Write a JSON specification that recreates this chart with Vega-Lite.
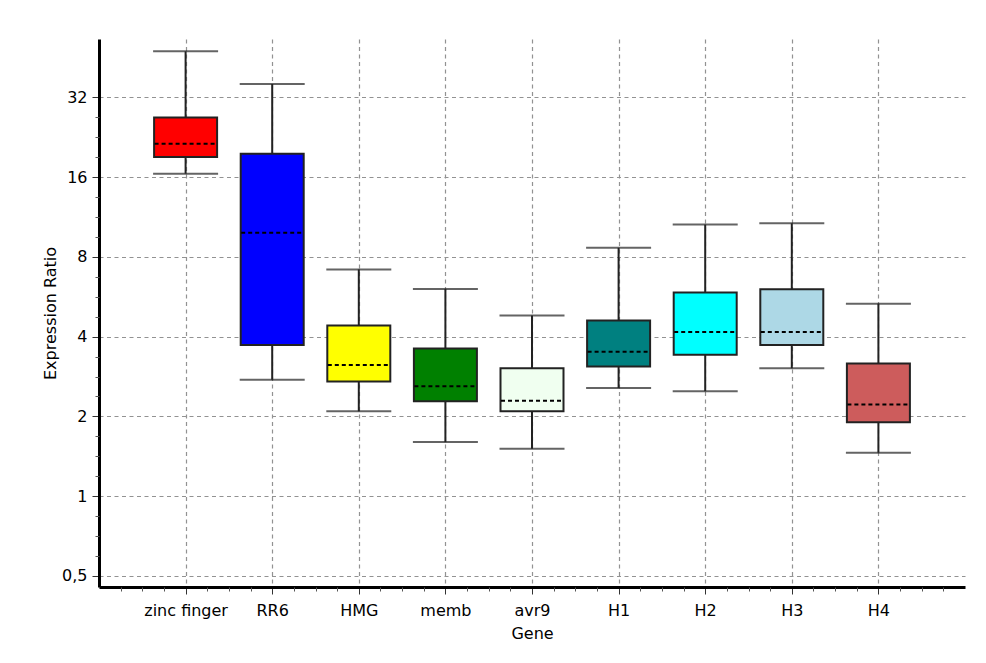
{
  "$schema": "https://vega.github.io/schema/vega-lite/v6.json",
  "width": 866,
  "height": 548,
  "autosize": {"type": "none"},
  "padding": {"left": 99, "top": 39, "right": 21, "bottom": 76},
  "background": "white",
  "config": {
    "view": {"stroke": null},
    "font": "DejaVu Sans",
    "axis": {
      "labelFont": "DejaVu Sans",
      "titleFont": "DejaVu Sans",
      "labelFontSize": 16,
      "titleFontSize": 16,
      "titleFontWeight": "normal",
      "labelColor": "#000",
      "titleColor": "#000"
    }
  },
  "data": {
    "values": [
      {"gene": "zinc finger", "min": 16.5, "q1": 19.06, "median": 21.4, "q3": 26.9, "max": 47.8},
      {"gene": "RR6", "min": 2.75, "q1": 3.72, "median": 9.87, "q3": 19.6, "max": 36.0},
      {"gene": "HMG", "min": 2.09, "q1": 2.71, "median": 3.13, "q3": 4.41, "max": 7.18},
      {"gene": "memb", "min": 1.6, "q1": 2.28, "median": 2.6, "q3": 3.61, "max": 6.05},
      {"gene": "avr9", "min": 1.51, "q1": 2.09, "median": 2.29, "q3": 3.04, "max": 4.81},
      {"gene": "H1", "min": 2.56, "q1": 3.09, "median": 3.51, "q3": 4.6, "max": 8.66},
      {"gene": "H2", "min": 2.49, "q1": 3.42, "median": 4.17, "q3": 5.87, "max": 10.6},
      {"gene": "H3", "min": 3.04, "q1": 3.72, "median": 4.17, "q3": 6.04, "max": 10.72},
      {"gene": "H4", "min": 1.46, "q1": 1.9, "median": 2.22, "q3": 3.17, "max": 5.33}
    ]
  },
  "layer": [
    {
      "encoding": {
        "x": {
          "field": "gene",
          "type": "nominal",
          "sort": null,
          "scale": {"type": "point", "padding": 1},
          "axis": {
            "orient": "bottom",
            "title": "Gene",
            "labelAngle": 0,
            "labelPadding": 8,
            "titlePadding": 7,
            "domainColor": "#000",
            "domainWidth": 3,
            "tickColor": "#333",
            "tickSize": 7,
            "grid": true,
            "gridColor": "#929292",
            "gridWidth": 1.2,
            "gridDash": [4, 3.5]
          }
        }
      },
      "layer": [
        {
          "mark": {"type": "rule", "color": "#222", "strokeWidth": 2},
          "encoding": {
            "y": {
              "field": "min",
              "type": "quantitative",
              "scale": {"type": "log", "base": 2, "domain": [0.454, 53.2], "nice": false},
              "axis": {
                "orient": "left",
                "title": "Expression Ratio",
                "values": [0.5, 1, 2, 4, 8, 16, 32],
                "labelExpr": "replace(format(datum.value, '~g'), '.', ',')",
                "labelPadding": 5,
                "titlePadding": 3,
                "domainColor": "#000",
                "domainWidth": 3,
                "tickColor": "#333",
                "tickSize": 7,
                "grid": true,
                "gridColor": "#929292",
                "gridWidth": 1.2,
                "gridDash": [4, 3.5]
              }
            },
            "y2": {"field": "max"}
          }
        },
        {
          "mark": {"type": "tick", "color": "#222", "thickness": 2, "size": 65},
          "encoding": {"y": {"field": "min", "type": "quantitative"}}
        },
        {
          "mark": {"type": "tick", "color": "#222", "thickness": 2, "size": 65},
          "encoding": {"y": {"field": "max", "type": "quantitative"}}
        },
        {
          "mark": {"type": "bar", "size": 63, "stroke": "#222", "strokeWidth": 2, "opacity": 1},
          "encoding": {
            "y": {"field": "q1", "type": "quantitative"},
            "y2": {"field": "q3"},
            "color": {
              "field": "gene",
              "type": "nominal",
              "sort": null,
              "legend": null,
              "scale": {
                "domain": ["zinc finger", "RR6", "HMG", "memb", "avr9", "H1", "H2", "H3", "H4"],
                "range": ["#FF0000", "#0000FF", "#FFFF00", "#008000", "#F0FFF0", "#008080", "#00FFFF", "#ADD8E6", "#CD5C5C"]
              }
            }
          }
        },
        {
          "mark": {"type": "rule", "color": "#000", "strokeWidth": 2, "strokeDash": [4, 3], "xOffset": -31, "x2Offset": 31},
          "encoding": {
            "x2": {"field": "gene"},
            "y": {"field": "median", "type": "quantitative"}
          }
        }
      ]
    },
    {
      "mark": {"type": "point", "opacity": 0},
      "encoding": {
        "x": {
          "datum": 0,
          "type": "quantitative",
          "scale": {"domain": [0, 10], "nice": false, "zero": false},
          "axis": {
            "orient": "bottom",
            "title": null,
            "labels": false,
            "domain": false,
            "grid": false,
            "tickSize": 4,
            "tickColor": "#555",
            "values": [0.25, 0.5, 0.75, 1.25, 1.5, 1.75, 2.25, 2.5, 2.75, 3.25, 3.5, 3.75, 4.25, 4.5, 4.75, 5.25, 5.5, 5.75, 6.25, 6.5, 6.75, 7.25, 7.5, 7.75, 8.25, 8.5, 8.75, 9.25, 9.5, 9.75]
          }
        },
        "y": {
          "datum": 1,
          "type": "quantitative",
          "scale": {"type": "log", "base": 2},
          "axis": {
            "orient": "left",
            "title": null,
            "labels": false,
            "domain": false,
            "grid": false,
            "tickSize": 4,
            "tickColor": "#555",
            "values": [0.5946, 0.7071, 0.8409, 1.1892, 1.4142, 1.6818, 2.3784, 2.8284, 3.3636, 4.7568, 5.6569, 6.7272, 9.5137, 11.3137, 13.4543, 19.0273, 22.6274, 26.9087]
          }
        }
      }
    }
  ],
  "resolve": {
    "scale": {"x": "independent"},
    "axis": {"x": "independent", "y": "independent"}
  }
}
